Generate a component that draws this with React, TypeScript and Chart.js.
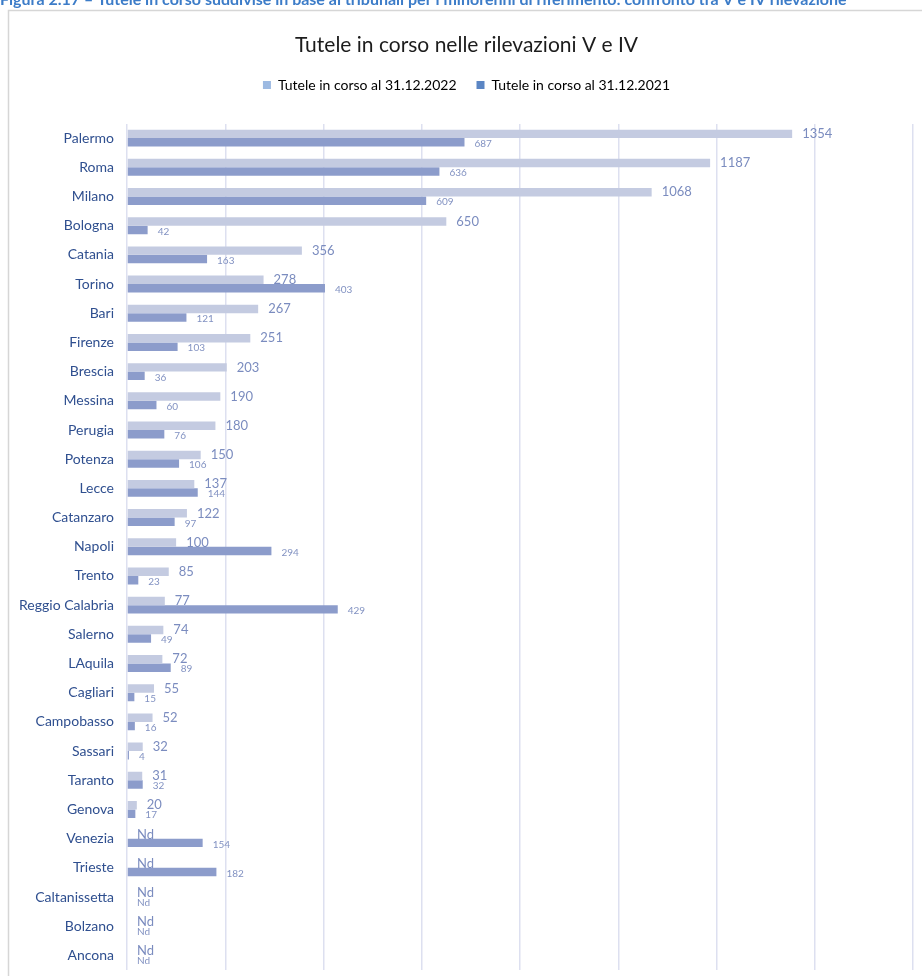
import React, { useEffect, useRef } from "react";
import { Chart, registerables } from "chart.js";

Chart.register(...registerables);

const caption =
  "Figura 2.17 – Tutele in corso suddivise in base ai tribunali per i minorenni di riferimento: confronto tra V e IV rilevazione";
const chartTitle = "Tutele in corso nelle rilevazioni V e IV";
const seriesNames = ["Tutele in corso al 31.12.2022", "Tutele in corso al 31.12.2021"];

const tribunali = [
  "Palermo", "Roma", "Milano", "Bologna", "Catania", "Torino", "Bari", "Firenze",
  "Brescia", "Messina", "Perugia", "Potenza", "Lecce", "Catanzaro", "Napoli", "Trento",
  "Reggio Calabria", "Salerno", "LAquila", "Cagliari", "Campobasso", "Sassari", "Taranto",
  "Genova", "Venezia", "Trieste", "Caltanissetta", "Bolzano", "Ancona",
];

const tutele2022: (number | null)[] = [
  1354, 1187, 1068, 650, 356, 278, 267, 251, 203, 190, 180, 150, 137, 122, 100, 85,
  77, 74, 72, 55, 52, 32, 31, 20, null, null, null, null, null,
];

const tutele2021: (number | null)[] = [
  687, 636, 609, 42, 163, 403, 121, 103, 36, 60, 76, 106, 144, 97, 294, 23,
  429, 49, 89, 15, 16, 4, 32, 17, 154, 182, null, null, null,
];

const xTicks = [0, 200, 400, 600, 800, 1000, 1200, 1400, 1600];

const FONT = "Lato, 'Open Sans', sans-serif";
const barColors = ["#c4cbe1", "#8c9ccb"];
const legendColors = ["#9dbae2", "#5b86c4"];

const framePlugin = {
  id: "frame",
  beforeDraw(chart: any) {
    const ctx = chart.ctx;
    ctx.save();
    ctx.strokeStyle = "#d6d6d6";
    ctx.lineWidth = 1.5;
    ctx.beginPath();
    ctx.moveTo(922, 10.5);
    ctx.lineTo(8.5, 10.5);
    ctx.lineTo(8.5, 976);
    ctx.stroke();
    ctx.fillStyle = "#3c7cc8";
    ctx.font = `bold 16px ${FONT}`;
    ctx.textBaseline = "alphabetic";
    ctx.textAlign = "left";
    ctx.fillText(caption, 0, 5);
    ctx.restore();
  },
};

const valueLabelPlugin = {
  id: "valueLabels",
  afterDatasetsDraw(chart: any) {
    const ctx = chart.ctx;
    const xScale = chart.scales.x;
    ctx.save();
    ctx.textAlign = "left";
    ctx.textBaseline = "middle";
    chart.data.datasets.forEach((ds: any, i: number) => {
      const meta = chart.getDatasetMeta(i);
      ctx.font = i === 0 ? `13px ${FONT}` : `10px ${FONT}`;
      ctx.fillStyle = i === 0 ? "#7b8cbf" : "#8292c2";
      meta.data.forEach((el: any, j: number) => {
        const v = ds.data[j];
        const base = xScale.getPixelForValue(0);
        const x = v == null || !isFinite(el.x) ? base : el.x;
        const text = v == null ? "Nd" : String(v);
        ctx.fillText(text, x + 10, el.y + (i === 0 ? 0 : 1.5));
      });
    });
    ctx.restore();
  },
};

export default function App() {
  const ref = useRef<HTMLCanvasElement | null>(null);
  useEffect(() => {
    if (!ref.current) return;
    const chart = new Chart(ref.current, {
      type: "bar",
      data: {
        labels: tribunali,
        datasets: [
          {
            label: seriesNames[0],
            data: tutele2022,
            backgroundColor: barColors[0],
            categoryPercentage: 0.58,
            barPercentage: 1,
          },
          {
            label: seriesNames[1],
            data: tutele2021,
            backgroundColor: barColors[1],
            categoryPercentage: 0.58,
            barPercentage: 1,
          },
        ],
      },
      options: {
        indexAxis: "y",
        responsive: false,
        animation: false,
        devicePixelRatio: 1,
        layout: { padding: { top: 22, right: 9, bottom: 6, left: 20 } },
        plugins: {
          title: {
            display: true,
            text: chartTitle,
            color: "#1c1c1c",
            font: { family: FONT, size: 21, weight: "normal" },
            padding: { top: 10.4, bottom: 0.4 },
          },
          legend: {
            display: true,
            position: "top",
            labels: {
              boxWidth: 8,
              boxHeight: 8,
              padding: 20,
              color: "#262626",
              font: { family: FONT, size: 14 },
              generateLabels: () =>
                seriesNames.map((n, i) => ({
                  text: n,
                  fillStyle: legendColors[i],
                  strokeStyle: legendColors[i],
                  lineWidth: 0,
                  hidden: false,
                  datasetIndex: i,
                })),
            },
          },
          tooltip: { enabled: false },
        },
        scales: {
          x: {
            position: "top",
            min: 0,
            max: 1600,
            afterBuildTicks: (s: any) => {
              s.ticks = xTicks.map((v) => ({ value: v }));
            },
            afterFit: (s: any) => {
              s.height = 21.5;
              s.paddingLeft = 0;
              s.paddingRight = 0;
            },
            ticks: { display: false },
            border: { display: false },
            grid: { color: "#dde0f0", lineWidth: 1.5, drawTicks: false },
          },
          y: {
            afterFit: (s: any) => {
              s.width = 107;
              s.paddingTop = 0;
              s.paddingBottom = 0;
            },
            border: { display: false },
            grid: { display: false, drawTicks: false },
            ticks: {
              padding: 13,
              color: "#2f4f8f",
              font: { family: FONT, size: 14 },
            },
          },
        },
      },
      plugins: [framePlugin, valueLabelPlugin],
    } as any);
    return () => chart.destroy();
  }, []);
  return (
    <div style={{ position: "absolute", left: 0, top: 0, width: 922, height: 976 }}>
      <canvas ref={ref} width={922} height={976} style={{ display: "block" }} />
    </div>
  );
}
